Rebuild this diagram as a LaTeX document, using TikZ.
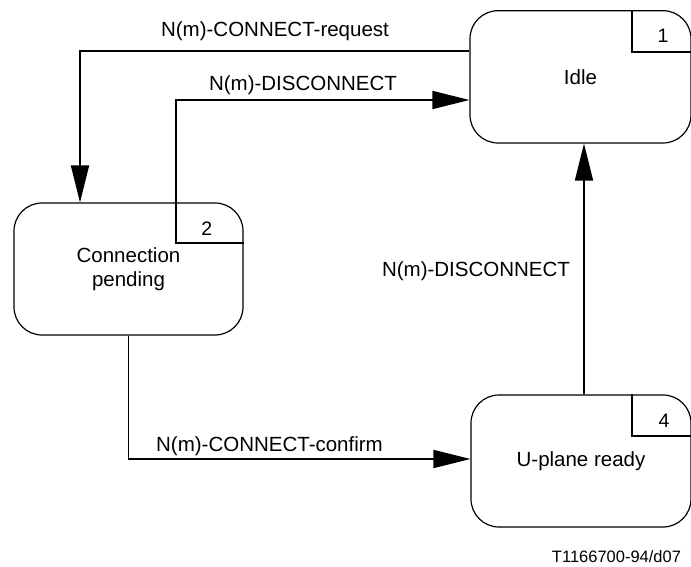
\documentclass[tikz,border=0pt]{standalone}
\usepackage{fontspec}
\setmainfont{Liberation Sans}
\usetikzlibrary{arrows.meta}
\begin{document}
\begin{tikzpicture}[x=1pt,y=-1pt,
  state/.style={draw, line width=1.2pt, rounded corners=28pt, inner sep=0pt,
    align=center, font=\fontsize{20.5}{23.5}\selectfont},
  conn/.style={line width=1.8pt, -{Triangle[length=37pt,width=18pt]}},
  numbox/.style={line width=1.8pt},
  lbl/.style={anchor=base, inner sep=0pt, font=\fontsize{20.5}{24}\selectfont},
  num/.style={anchor=base, inner sep=0pt, font=\fontsize{19.5}{22}\selectfont},
  foot/.style={anchor=base, inner sep=0pt, font=\fontsize{16.5}{20}\selectfont}]
\useasboundingbox (0,0) rectangle (691,567);

% states
\node[state, minimum width=221pt, minimum height=132.3pt] (idle) at (580.5,76.85) {Idle};
\node[state, minimum width=229pt, minimum height=132pt] (pend) at (128.5,269) {Connection\\pending};
\node[state, minimum width=220pt, minimum height=132pt] (uplane) at (581,461) {U-plane ready};

% state number boxes
\draw[numbox] (idle.north -| 632,0) |- (idle.east |- 0,52);
\draw[numbox] (pend.north -| 176,0) |- (pend.east |- 0,243);
\draw[numbox] (uplane.north -| 632,0) |- (uplane.east |- 0,436);
\node[num] (n1) at (663,42.7) {1};
\node[num] (n2) at (206.7,235) {2};
\node[num] (n4) at (664,427) {4};

% transitions
\draw[conn] (idle.west |- 0,50.7) -| (pend.north -| 80,0);
\draw[conn] (pend.north -| 176,0) |- (idle.west |- 0,100);
\draw[conn] (pend.south) |- (uplane.west |- 0,459);
\draw[conn] (uplane.north -| 584,0) -- (idle.south -| 584,0);

% transition labels
\node[lbl] (lreq) at (275,37) {N(m)-CONNECT-request};
\node[lbl] (ldis1) at (303,90.5) {N(m)-DISCONNECT};
\node[lbl] (ldis2) at (476,276.5) {N(m)-DISCONNECT};
\node[lbl] (lconf) at (269.5,451) {N(m)-CONNECT-confirm};

\node[foot] (ref) at (616.5,562) {T1166700-94/d07};
\end{tikzpicture}
\end{document}
